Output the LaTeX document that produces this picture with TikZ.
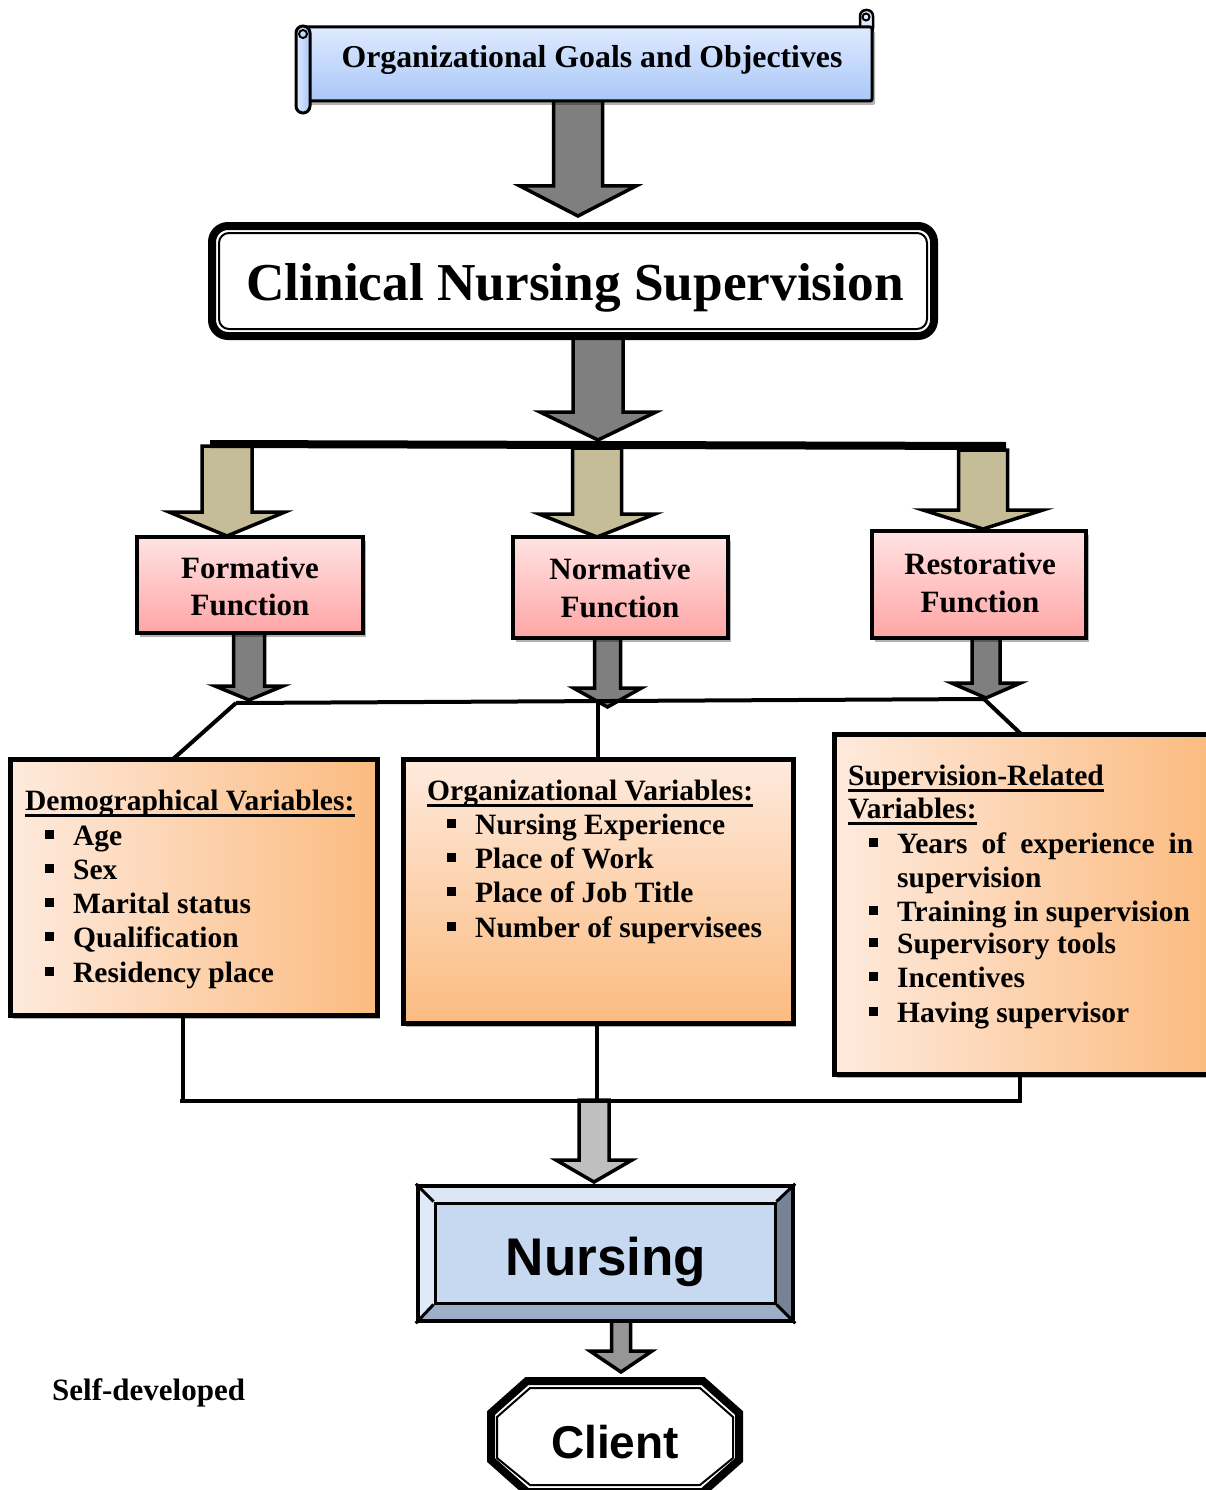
\documentclass[tikz,border=0pt]{standalone}
\usepackage{fontspec}
\setmainfont{Liberation Serif}
\newfontfamily\arialf{Liberation Sans}
\usetikzlibrary{shadows,calc}
\definecolor{arrgray}{HTML}{7F7F7F}
\definecolor{arrtan}{HTML}{C4BD97}
\definecolor{arrlight}{HTML}{BFBFBF}
\definecolor{arrmid}{HTML}{969696}
\definecolor{pinkA}{HTML}{FFE3E3}
\definecolor{pinkB}{HTML}{FFA5A5}
\definecolor{orgA}{HTML}{FEEADD}
\definecolor{orgB}{HTML}{FBBB80}
\definecolor{blueA}{HTML}{DFEAFF}
\definecolor{blueB}{HTML}{A9C7F7}
\definecolor{nurIn}{HTML}{C6D9F1}
\definecolor{nurTop}{HTML}{DCE6F5}
\definecolor{nurLeft}{HTML}{DFE9F8}
\definecolor{nurRight}{HTML}{768396}
\definecolor{nurBot}{HTML}{9DAEC6}
\newcommand\sqbul{\makebox[28pt][l]{\rule[6pt]{9pt}{9pt}}}
\newcommand\blockarr[7]{\draw[blk,fill=#1] (#2-#6,#3) -- (#2+#6,#3) -- (#2+#6,#4) -- (#2+#7,#4) -- (#2,#5) -- (#2-#7,#4) -- (#2-#6,#4) -- cycle;}
\tikzset{
  blk/.style={draw=black, line width=3.5pt, line join=miter},
  conn/.style={line width=4pt},
  shad/.style={drop shadow={shadow xshift=3pt, shadow yshift=-4pt, opacity=.3, fill=black}},
  fbox/.style={draw, line width=4pt, top color=pinkA, bottom color=pinkB, inner sep=0pt, shad},
  vbox/.style={draw, line width=5pt, inner sep=0pt, shad},
  txt/.style={inner sep=0pt, anchor=base west, font=\bfseries\fontsize{29.5}{34}\selectfont},
  ftxt/.style={inner sep=0pt, anchor=base, font=\bfseries\fontsize{31}{31}\selectfont},
  uline/.style={line width=2.5pt}
}
\begin{document}
\begin{tikzpicture}[x=1pt,y=-1pt]
\useasboundingbox (0,0) rectangle (1206,1490);
\clip (0,0) rectangle (1206,1490);
\fill[white] (0,0) rectangle (1206,1490);

% block arrows
\blockarr{arrgray}{578}{100}{186}{216}{24.5}{58}
\blockarr{arrgray}{598}{336}{412}{440}{25}{58}
\blockarr{arrtan}{227}{446}{512}{536}{25}{58}
\blockarr{arrtan}{597}{448}{514}{537}{24.5}{58}
\blockarr{arrtan}{983}{450}{510}{529}{24.5}{60}
\blockarr{arrgray}{249}{630}{686}{700}{15.5}{34}
\blockarr{arrgray}{607.5}{636}{688}{707}{13}{34}
\blockarr{arrgray}{986}{636}{683}{698}{14}{34.5}
\blockarr{arrlight}{594}{1100}{1160}{1182}{15}{38}
\blockarr{arrmid}{621}{1318}{1351}{1372}{9.5}{31}

% scroll (goals)
\draw[line width=2.5pt, fill=blueA, rounded corners=6pt] (860,10) rectangle (873,34);
\draw[line width=2pt] (866,17) circle (3.5);
\node[draw, line width=3pt, top color=blueA, bottom color=blueB, minimum width=567pt, minimum height=74pt, inner sep=0pt, rounded corners=2pt, shad] (goal) at (588.5,64) {};
\draw[line width=3pt, left color=blueA, right color=blueB, rounded corners=7pt] (296,26) rectangle (310,113);
\draw[line width=2pt] (303,34) circle (4);
\node[inner sep=0pt, anchor=base, font=\bfseries\fontsize{31.8}{31.8}\selectfont] (goalt) at (592,68) {Organizational Goals and Objectives};

% clinical nursing supervision
\node[draw, line width=8pt, fill=white, rounded corners=16pt, minimum width=722pt, minimum height=110pt, inner sep=0pt] (cns) at (573,281) {};
\draw[line width=2pt, rounded corners=10pt] (219,233) rectangle (927,329);
\node[inner sep=0pt, anchor=base, font=\bfseries\fontsize{53.3}{53.3}\selectfont] (cnst) at (575,300) {Clinical Nursing Supervision};

% bar
\draw[line width=8pt] (210,444) -- (1006,446);

% function boxes
\node[fbox, minimum width=226pt, minimum height=96pt] (form) at (250,585) {};
\node[fbox, minimum width=215pt, minimum height=101pt] (norm) at (620.5,587.5) {};
\node[fbox, minimum width=214pt, minimum height=107pt] (rest) at (979,584.5) {};
\node[ftxt] (form1) at (250,578) {Formative};
\node[ftxt] (form2) at (250,615) {Function};
\node[ftxt] (norm1) at (620,579) {Normative};
\node[ftxt] (norm2) at (620,617) {Function};
\node[ftxt] (rest1) at (980,574) {Restorative};
\node[ftxt] (rest2) at (980,612) {Function};

% lower connector
\coordinate (jl) at (236,703);
\coordinate (jm) at (598,701);
\coordinate (jr) at (984,699);
\draw[conn] (jl) -- (jr);
\draw[conn] (jl) -- (172,760);
\draw[line width=3.5pt] (jm) -- (598,760);
\draw[conn] (jr) -- (1021,734);

% bottom connector
\draw[conn] (183,1017) -- (183,1101);
\draw[line width=3.5pt] (597,1025) -- (597,1101);
\draw[conn] (1020,1076) -- (1020,1101);
\draw[line width=4.5pt] (180,1101) -- (1022,1101);

% variable boxes
\node[vbox, left color=orgA, right color=orgB, minimum width=367pt, minimum height=256pt] (dem) at (193.5,887) {};
\node[vbox, top color=orgA, bottom color=orgB, minimum width=390pt, minimum height=264pt] (orgv) at (598,891) {};
\node[vbox, left color=orgA, right color=orgB, minimum width=378pt, minimum height=340pt] (sup) at (1023,904) {};

\node[txt] (dt) at (25,810) {Demographical Variables:};
\draw[uline] ([yshift=-5.5pt]dt.base west) -- ([yshift=-5.5pt]dt.base east);
\node[txt] (d1) at (45,845) {\sqbul Age};
\node[txt] (d2) at (45,879) {\sqbul Sex};
\node[txt] (d3) at (45,913) {\sqbul Marital status};
\node[txt] (d4) at (45,947) {\sqbul Qualification};
\node[txt] (d5) at (45,982) {\sqbul Residency place};

\node[txt] (ot) at (427,800) {Organizational Variables:};
\draw[uline] ([yshift=-5.5pt]ot.base west) -- ([yshift=-5.5pt]ot.base east);
\node[txt] (o1) at (447,834) {\sqbul Nursing Experience};
\node[txt] (o2) at (447,868) {\sqbul Place of Work};
\node[txt] (o3) at (447,902) {\sqbul Place of Job Title};
\node[txt] (o4) at (447,937) {\sqbul Number of supervisees};

\node[txt] (st1) at (848,785) {Supervision-Related};
\draw[uline] ([yshift=-5.5pt]st1.base west) -- ([yshift=-5.5pt]st1.base east);
\node[txt] (st2) at (848,818) {Variables:};
\draw[uline] ([yshift=-5.5pt]st2.base west) -- ([yshift=-5.5pt]st2.base east);
\node[txt] (s1) at (869,853) {\sqbul\makebox[296pt][s]{Years of experience in}};
\node[txt] (s1b) at (897,887) {supervision};
\node[txt] (s2) at (869,921) {\sqbul Training in supervision};
\node[txt] (s3) at (869,953) {\sqbul Supervisory tools};
\node[txt] (s4) at (869,987) {\sqbul Incentives};
\node[txt] (s5) at (869,1022) {\sqbul Having supervisor};

% nursing bevel box
\fill[nurTop] (418,1186) -- (793,1186) -- (775,1203) -- (435,1203) -- cycle;
\fill[nurLeft] (418,1186) -- (435,1203) -- (435,1303) -- (418,1321) -- cycle;
\fill[nurRight] (793,1186) -- (793,1321) -- (775,1303) -- (775,1203) -- cycle;
\fill[nurBot] (418,1321) -- (793,1321) -- (775,1303) -- (435,1303) -- cycle;
\node[draw, line width=4.5pt, minimum width=375pt, minimum height=135pt, inner sep=0pt] (nurs) at (605.5,1253.5) {};
\node[draw, line width=3pt, fill=nurIn, minimum width=340pt, minimum height=100pt, inner sep=0pt] (nursin) at (605,1253) {};
\draw[line width=3pt] (nurs.north west) -- (nursin.north west);
\draw[line width=3pt] (nurs.north east) -- (nursin.north east);
\draw[line width=3pt] (nurs.south west) -- (nursin.south west);
\draw[line width=3pt] (nurs.south east) -- (nursin.south east);
\node[inner sep=0pt, anchor=base, font=\arialf\bfseries\fontsize{53}{53}\selectfont] (nurst) at (606,1275) {Nursing};

% client octagon
\draw[line width=8pt, fill=white, line join=miter] (527,1381) -- (703,1381) -- (739,1413) -- (739,1460) -- (703,1492) -- (527,1492) -- (491,1460) -- (491,1413) -- cycle;
\draw[line width=2pt] (530,1388) -- (700,1388) -- (733,1417) -- (733,1458) -- (700,1485) -- (530,1485) -- (497,1458) -- (497,1417) -- cycle;
\node[inner sep=0pt, anchor=base, font=\arialf\bfseries\fontsize{46}{46}\selectfont] (client) at (615,1458) {Client};

% note
\node[inner sep=0pt, anchor=base west, font=\bfseries\fontsize{31}{31}\selectfont] (self) at (52,1400) {Self-developed};
\end{tikzpicture}
\end{document}
